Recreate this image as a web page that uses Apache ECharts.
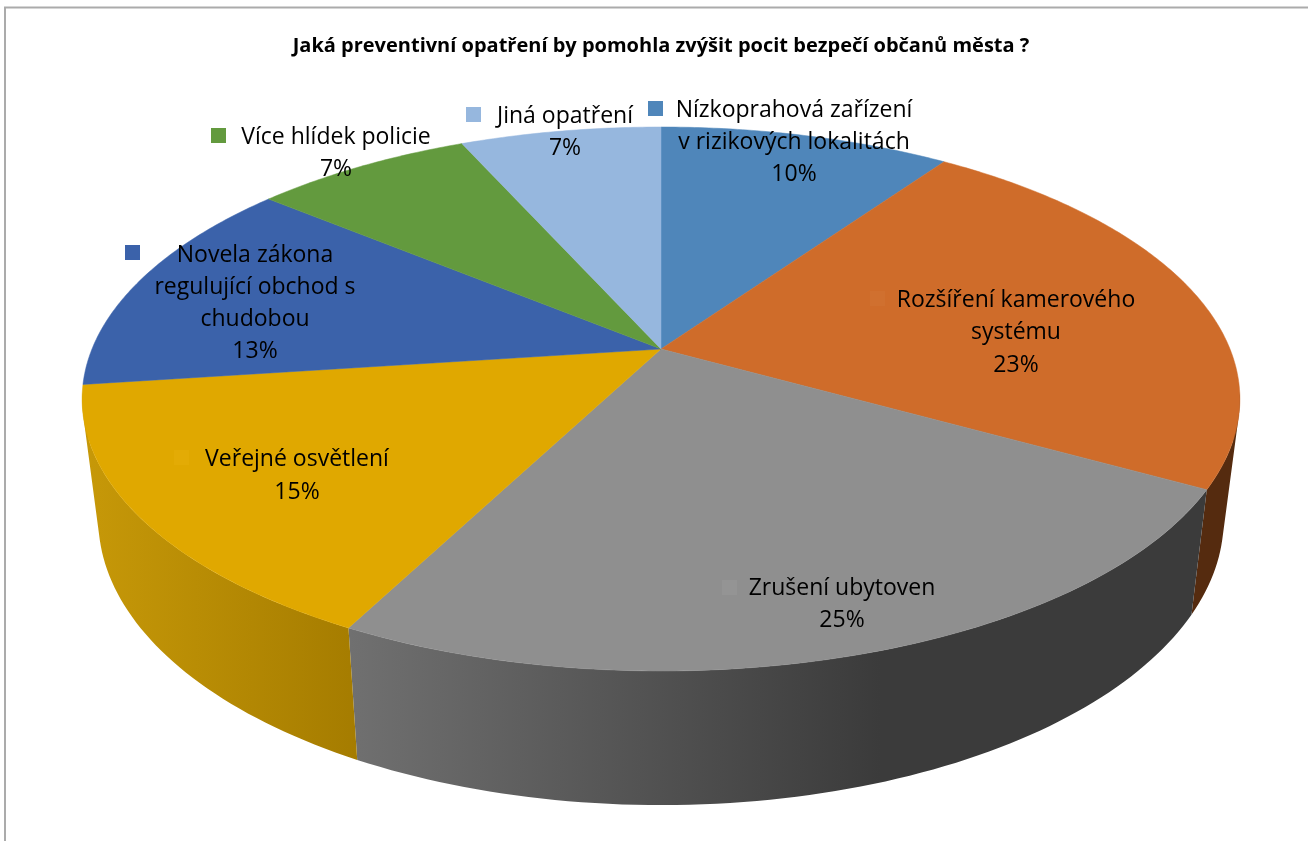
<!DOCTYPE html>
<html>
<head>
<meta charset="utf-8">
<style>html,body{margin:0;padding:0;background:#fff}#c{width:1309px;height:841px}</style>
<script src="https://cdn.jsdelivr.net/npm/echarts@6/dist/echarts.min.js"></script>
</head>
<body>
<div id="c"></div>
<script>
const chartTitle = 'Jaká preventivní opatření by pomohla zvýšit pocit bezpečí občanů města ?';
const categories = ['Nízkoprahová zařízení v rizikových lokalitách','Rozšíření kamerového systému','Zrušení ubytoven','Veřejné osvětlení','Novela zákona regulující obchod s chudobou','Více hlídek policie','Jiná opatření'];
const values = [9.7, 23.4, 24.5, 15.3, 13.1, 7.3, 6.7];
const wrappedNames = [
  ['Nízkoprahová zařízení','v rizikových lokalitách'],
  ['Rozšíření kamerového','systému'],
  ['Zrušení ubytoven'],
  ['Veřejné osvětlení'],
  ['Novela zákona','regulující obchod s','chudobou'],
  ['Více hlídek policie'],
  ['Jiná opatření']
];
const topColors = ['#4f86ba','#cf6c2a','#8f8f8f','#e0a800','#3b62aa','#639a3e','#96b7de'];
const keyColors = ['#4f86ba','#d0702f','#949494','#e3ab05','#3b62aa','#639a3e','#96b7de'];
const linear = (x, x2, a, b) => ({type:'linear',x:x,y:0,x2:x2,y2:0,global:true,colorStops:[{offset:0,color:a},{offset:1,color:b}]});
const wallColors = [
  '#2f5070','#552b0f',
  linear(350, 880, '#707070', '#3b3b3b'),
  linear(90, 358, '#c69808', '#a57c00'),
  '#243a66','#3b5c25','#5a6e85'
];
// layout of labels: centre x, first-line centre y, line height, legend key x, key y
const labelLayout = [
  {cx:794, y:110, lh:32, kx:648, ky:101},
  {cx:1016,y:300, lh:32.5, kx:870, ky:291},
  {cx:842, y:588, lh:32, kx:722, ky:580},
  {cx:297, y:459, lh:33, kx:174, ky:450},
  {cx:255, y:255, lh:32.3, kx:125, ky:245},
  {cx:336, y:137, lh:32, kx:211, ky:128},
  {cx:565, y:116, lh:32, kx:466, ky:107}
];
const total = values.reduce((a,b)=>a+b,0);
const cum = [0]; values.forEach(v=>cum.push(cum[cum.length-1]+v));

// perspective projection of the pie's circular top and bottom
const CX=661, CY=349, A=262.8, B=569, K=0.1838;
const topPt = t => { const x=Math.sin(t), y=-Math.cos(t), d=1-K*y; return [CX+B*x/d, CY+A*y/d]; };
const botPt = t => { const p=topPt(t); return [CX+0.972*(p[0]-CX), 467+1.05*(p[1]-CY)]; };
const arc = (fn,a,b,step) => { const n=Math.max(2,Math.ceil(Math.abs(b-a)/step)), r=[]; for(let i=0;i<=n;i++) r.push(fn(a+(b-a)*i/n)); return r; };
const angle = c => c/total*2*Math.PI;
const WALL_A=99*Math.PI/180, WALL_B=261*Math.PI/180;

const rowData = values.map((v,i)=>({name:categories[i], value:v}));

const quadPath = q => {
  let area=0;
  for(let k=0;k<4;k++){ const p=q[k], n=q[(k+1)%4]; area+=p[0]*n[1]-n[0]*p[1]; }
  const o = area<0 ? q.slice().reverse() : q;
  return 'M'+o.map(p=>p[0].toFixed(2)+' '+p[1].toFixed(2)).join('L')+'Z';
};
const renderWall = (params, api) => {
  const i=params.dataIndex;
  const a=Math.max(angle(cum[i]),WALL_A);
  const b=Math.min(angle(cum[i])+angle(api.value(0)),WALL_B);
  if(b<=a) return {type:'group',children:[]};
  const T=arc(topPt,a,b,0.02), U=arc(botPt,a,b,0.02);
  let d='';
  for(let j=0;j<T.length-1;j++) d+=quadPath([T[j],T[j+1],U[j+1],U[j]]);
  return {type:'path',shape:{pathData:d},style:{fill:wallColors[i]}};
};
const renderTop = (params, api) => {
  const i=params.dataIndex;
  const a=angle(cum[i]), b=a+angle(api.value(0));
  const pts=[[CX,CY]].concat(arc(topPt,a,b,0.01));
  return {type:'polygon',shape:{points:pts},style:{fill:topColors[i],stroke:topColors[i],lineWidth:0.5}};
};
const FONT='"Open Sans"';
const renderLabel = (params, api) => {
  const i=params.dataIndex, L=labelLayout[i];
  const lines=wrappedNames[i].concat([Math.round(api.value(0))+'%']);
  const kids=lines.map((s,j)=>({type:'text',style:{text:s,x:L.cx,y:L.y+j*L.lh,align:'center',verticalAlign:'middle',fill:'#000',font:'23px '+FONT}}));
  kids.push({type:'rect',shape:{x:L.kx,y:L.ky,width:15,height:15},style:{fill:keyColors[i]}});
  return {type:'group',children:kids};
};

const chart=echarts.init(document.getElementById('c'),null,{renderer:'canvas'});
chart.setOption({
  animation:false,
  backgroundColor:'#ffffff',
  title:{text:chartTitle,left:656,textAlign:'center',top:31,textStyle:{fontFamily:'Open Sans',fontSize:20,fontWeight:'bold',color:'#000'}},
  tooltip:{show:false},
  graphic:[{type:'polyline',shape:{points:[[5,841],[5,7.5],[1308,7.5]]},style:{stroke:'#ababab',lineWidth:2,fill:null},silent:true}],
  series:[
    {type:'custom',coordinateSystem:'none',z:1,silent:true,data:rowData,renderItem:renderWall},
    {type:'custom',coordinateSystem:'none',z:2,silent:true,data:rowData,renderItem:renderTop},
    {type:'custom',coordinateSystem:'none',z:3,silent:true,data:rowData,renderItem:renderLabel}
  ]
});
</script>
</body>
</html>
